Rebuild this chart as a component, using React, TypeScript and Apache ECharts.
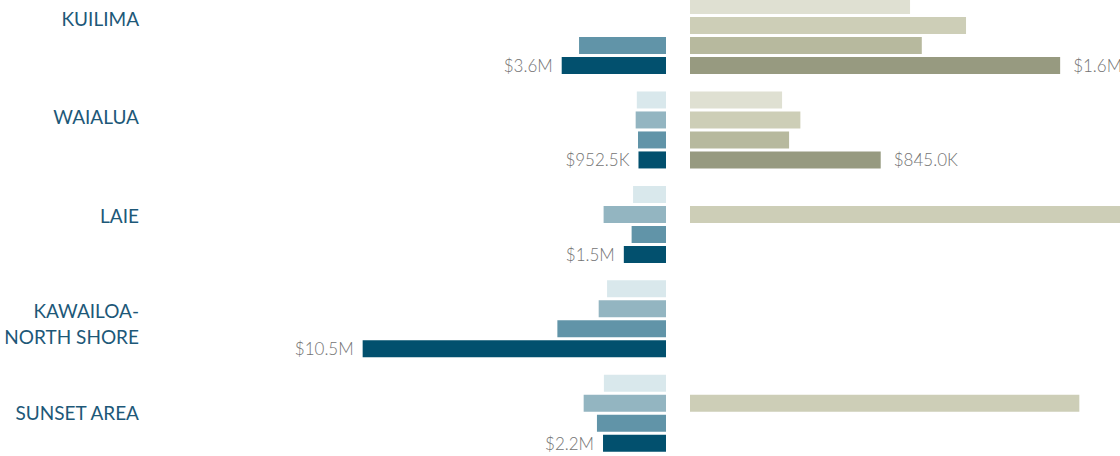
import React, { useEffect, useRef } from "react";
import * as echarts from "echarts";

const categories = ["KUILIMA", "WAIALUA", "LAIE", "KAWAILOA-\nNORTH SHORE", "SUNSET AREA"];
const seriesNames = ["Period 1", "Period 2", "Period 3", "Period 4"];

// left panel (blue)
const left1 = [null, 1010000, 1140000, 2040000, 2150000];
const left2 = [null, 1050000, 2160000, 2330000, 2850000];
const left3 = [3010000, 970000, 1190000, 3760000, 2390000];
const left4 = [3610000, 952500, 1460000, 10500000, 2180000];

// right panel (olive)
const right1 = [975000, 408000, null, null, null];
const right2 = [1223000, 489000, 2100000, null, 1725000];
const right3 = [1027000, 439000, null, null, null];
const right4 = [1640000, 845000, null, null, null];

const leftColors = ["#d9e8ec", "#93b5c1", "#6194a8", "#02506e"];
const rightColors = ["#dfe0d2", "#cdceb7", "#b7b99e", "#979a80"];

const fmt = (v: number) =>
  v >= 1e6 ? "$" + (v / 1e6).toFixed(1) + "M" : "$" + (v / 1e3).toFixed(1) + "K";

const FONT = "'Lato', sans-serif";
const OFF_Y = 40;

export default function App() {
  const ref = useRef<HTMLDivElement>(null);
  useEffect(() => {
    const chart = echarts.init(ref.current!, null, { renderer: "svg" });
    const leftData = [left1, left2, left3, left4];
    const rightData = [right1, right2, right3, right4];
    const barCommon = { barWidth: 17, barGap: "17.6%" };
    const valueLabel = {
      formatter: (p: any) => fmt(p.value),
      color: "#737373",
      fontFamily: FONT,
      fontSize: 17,
      fontWeight: 300,
    };
    const series: any[] = [];
    leftData.forEach((d, i) => {
      series.push({
        type: "bar",
        name: seriesNames[i],
        xAxisIndex: 1,
        yAxisIndex: 1,
        data: d,
        ...barCommon,
        itemStyle: { color: leftColors[i] },
        label: { show: i === 3, position: "left", distance: 9, ...valueLabel },
      });
    });
    rightData.forEach((d, i) => {
      series.push({
        type: "bar",
        name: seriesNames[i],
        xAxisIndex: 2,
        yAxisIndex: 2,
        data: d,
        ...barCommon,
        itemStyle: { color: rightColors[i] },
        label: { show: i === 3, position: "right", distance: 13, ...valueLabel },
      });
    });
    series.push({
      type: "bar",
      xAxisIndex: 0,
      yAxisIndex: 0,
      data: categories.map(() => null),
      silent: true,
    });

    const hiddenX = (extra: any) => ({ type: "value", show: false, ...extra });
    const catY = (gridIndex: number) => ({
      type: "category",
      gridIndex,
      inverse: true,
      data: categories,
      axisLine: { show: false },
      axisTick: { show: false },
      axisLabel: { show: false },
      splitLine: { show: false },
    });

    chart.setOption({
      animation: false,
      backgroundColor: "#ffffff",
      grid: [
        { left: 139, width: 1, top: OFF_Y - 31.25, height: 492.5, outerBoundsMode: "none" },
        { left: 88.2, width: 577.8, top: OFF_Y - 11.7, height: 472.2, outerBoundsMode: "none" },
        { left: 690, width: 677.1, top: OFF_Y - 11.7, height: 472.2, outerBoundsMode: "none" },
      ],
      xAxis: [
        hiddenX({ gridIndex: 0, min: 0, max: 1 }),
        hiddenX({ gridIndex: 1, min: 0, max: 20000000, inverse: true }),
        hiddenX({ gridIndex: 2, min: 0, max: 3000000 }),
      ],
      yAxis: [
        {
          ...catY(0),
          axisLabel: {
            show: true,
            margin: 0,
            align: "right",
            color: "#1d5878",
            fontFamily: FONT,
            fontSize: 19,
            lineHeight: 26,
            interval: 0,
            formatter: (v: string) => (v.indexOf("\n") >= 0 ? "{s| }\n" + v : v),
            rich: { s: { lineHeight: 20, fontSize: 10 } },
          },
        },
        catY(1),
        catY(2),
      ],
      series,
    });
    return () => chart.dispose();
  }, []);
  return (
    <div
      ref={ref}
      style={{ position: "fixed", left: 0, top: -OFF_Y, width: 1400, height: 540 }}
    />
  );
}
